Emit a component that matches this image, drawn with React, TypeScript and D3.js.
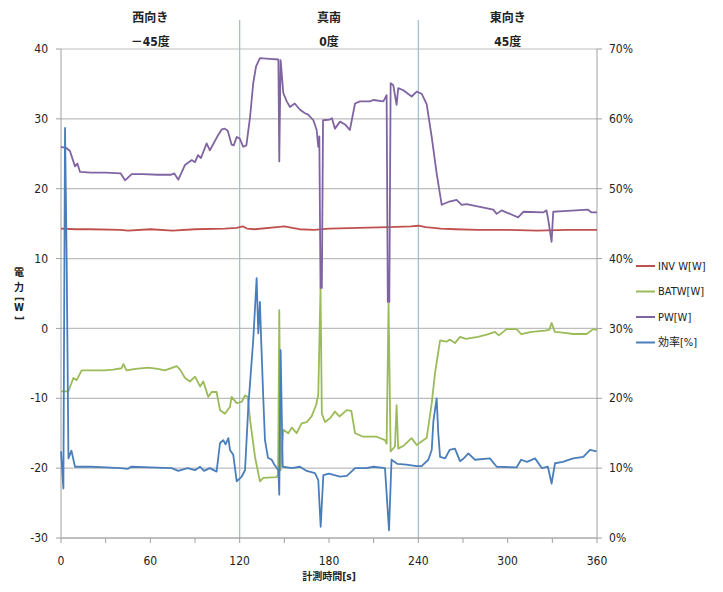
import * as d3 from 'd3';

// [time s, value] pairs
const invPoints: [number, number][] = [
  [0, 14.3], [10, 14.2], [20, 14.2], [40, 14.1], [45, 14.0], [60, 14.2], [75, 14.0], [90, 14.2],
  [110, 14.3], [118, 14.4], [122, 14.6], [125, 14.3], [130, 14.2], [145, 14.5], [150, 14.6],
  [160, 14.2], [170, 14.1], [180, 14.3], [200, 14.4], [220, 14.5], [235, 14.6], [240, 14.7],
  [245, 14.5], [255, 14.3], [265, 14.2], [280, 14.1], [300, 14.1], [320, 14.0], [340, 14.1], [360, 14.1],
];

const batwPoints: [number, number][] = [
  [0, -9.0], [5, -9.0], [8.3, -7.1], [10.5, -7.4], [13.9, -6.0], [20, -6.0], [29.5, -6.0], [35, -5.9],
  [40.7, -5.7], [41.9, -5.1], [44, -6.0], [50, -5.8], [58.6, -5.6], [65, -5.8], [69.8, -6.0],
  [77.7, -5.4], [80, -5.9], [83.3, -7.1], [86.6, -7.6], [90, -6.9], [93.4, -8.3], [95.6, -7.6],
  [98.9, -9.8], [101.2, -9.1], [104.5, -9.1], [106.8, -11.7], [110.1, -12.2], [113.5, -11.2],
  [114.6, -9.8], [118, -10.7], [121.4, -10.5], [123.6, -9.6], [125.4, -9.8], [127, -13.1],
  [130.3, -18.4], [133.6, -21.9], [135.9, -21.4], [144.9, -21.3], [145.8, -20.8], [146.6, 2.6],
  [147.5, -20.3], [149.3, -14.5], [152.7, -15.0], [155, -14.2], [158.3, -15.0], [161.6, -13.6],
  [165, -13.4], [168.3, -12.6], [171.3, -11.0], [172.8, -9.5], [174.3, 5.8], [175.2, -12.2],
  [177.3, -13.4], [181, -12.8], [184, -11.9], [187, -12.6], [191.9, -11.7], [195, -11.8],
  [197.5, -15.0], [203, -15.5], [212, -15.5], [217.6, -16.0], [218.7, -16.5], [220, 3.6],
  [221.4, -17.6], [224.3, -16.9], [225.4, -11.0], [226.5, -17.2], [230, -16.8], [235.5, -15.7],
  [238.9, -16.7], [243.3, -16.0], [245.6, -15.7], [249, -10.7], [251.2, -6.4], [254.6, -1.7],
  [259, -1.9], [261, -1.6], [264.6, -2.1], [268, -1.2], [272, -1.5], [280, -1.2], [285.9, -0.9],
  [291.5, -0.5], [294, -1.0], [299.3, -0.1], [306, -0.1], [309, -0.8], [316, -0.5], [325, -0.3],
  [328, -0.2], [329.5, 0.8], [331.7, -0.5], [337, -0.6], [344, -0.8], [353, -0.8], [357.5, -0.1], [360, -0.2],
];

const pwPoints: [number, number][] = [
  [0, 26.0], [3.8, 25.8], [6, 25.4], [9.4, 23.2], [11, 23.6], [12.8, 22.4], [20, 22.3], [30, 22.3],
  [40, 22.2], [43, 21.2], [47.5, 22.1], [55, 22.1], [65, 22.0], [74, 22.0], [76, 22.2], [78.8, 21.3],
  [83.3, 23.4], [87.8, 24.1], [90, 23.8], [92, 24.8], [94, 24.4], [97.8, 26.5], [100, 25.5],
  [105.6, 27.7], [108, 28.5], [110, 28.6], [112, 28.3], [114.6, 26.3], [116, 26.2], [118, 27.4],
  [120, 27.2], [122.4, 26.0], [124.5, 26.2], [127, 30.3], [129.1, 35.1], [131, 37.5], [133.6, 38.7],
  [140, 38.6], [146, 38.5], [146.6, 23.9], [147.5, 38.4], [149.3, 33.7], [151.6, 32.5], [153.8, 31.7],
  [157, 32.2], [160.5, 31.3], [163.9, 30.8], [166, 30.6], [169.5, 29.8], [171.7, 28.4], [172.8, 26.0],
  [173.5, 27.5], [174.3, 5.8], [175.2, 5.8], [176, 29.8], [180.6, 29.9], [182, 30.1], [184, 28.6],
  [187.4, 29.6], [190.8, 29.2], [194, 28.4], [197.5, 32.2], [200.8, 32.5], [207.5, 32.5],
  [209.7, 32.7], [216.5, 32.5], [218.7, 33.4], [219.5, 3.8], [220.5, 3.8], [221.4, 35.1],
  [223.2, 34.8], [225.4, 32.0], [226.5, 34.4], [229.9, 34.1], [235.5, 33.2], [238.9, 33.9],
  [242.2, 33.6], [245.6, 32.1], [249, 27.4], [252.3, 22.2], [255.7, 17.7], [260.1, 18.1],
  [265.7, 18.4], [269.1, 17.7], [272.4, 17.8], [281.4, 17.4], [290.3, 17.0], [292.6, 16.4],
  [295.9, 16.9], [303.7, 16.2], [307, 15.9], [310.5, 16.7], [323.9, 16.6], [326.1, 16.9],
  [327.3, 15.5], [329.5, 12.4], [330.6, 16.7], [337.3, 16.8], [354, 17.0], [356.3, 16.6], [360, 16.6],
];

// efficiency in % (right axis)
const effPoints: [number, number][] = [
  [0, 12.4], [1.6, 7.1], [2.7, 58.7], [3.8, 40], [5, 11.4], [7, 12.5], [9.4, 10.2], [20, 10.2],
  [30, 10.1], [40, 10.0], [45, 9.9], [47, 10.2], [60, 10.1], [74.3, 10.0], [78.8, 9.6], [85, 10.0],
  [90, 9.7], [93.4, 10.2], [96, 9.6], [100, 10.0], [104.5, 9.5], [106.8, 13.6], [109, 14.0],
  [110.5, 13.4], [112.4, 14.3], [113.5, 12.6], [115.7, 11.9], [118, 8.1], [121.4, 8.8], [123.6, 9.7],
  [125.8, 18.8], [129.1, 28.3], [131.4, 37.2], [132.5, 29.3], [133.6, 33.8], [134.5, 28],
  [135.9, 19.8], [137, 14.0], [139, 11.5], [141.5, 11.2], [143, 10.6], [146, 9.7], [146.6, 6.2],
  [147.5, 26.9], [148.9, 10.2], [155, 10.0], [160.5, 10.2], [165, 9.6], [170.6, 9.3], [172.8, 8.3],
  [174.4, 1.6], [176.2, 9.0], [180, 9.2], [187.4, 8.8], [192, 8.9], [197.5, 10.0], [205, 10.0],
  [210, 10.2], [217.6, 10.0], [220.3, 1.1], [222, 11.2], [226, 10.6], [232, 10.5], [238.9, 10.3],
  [242.2, 10.3], [246.7, 11.2], [249, 12.6], [250.1, 16.7], [252.3, 20.0], [253.4, 15],
  [254.6, 11.6], [258, 11.4], [261, 12.6], [264.6, 12.8], [268, 11.0], [270, 11.3], [273.6, 12.1],
  [278, 11.2], [288.1, 11.4], [292.6, 10.2], [306, 10.1], [309, 11.2], [313, 10.9], [318.4, 11.4],
  [323, 10.0], [327, 10.2], [329.5, 7.8], [331.8, 10.7], [337, 10.9], [344, 11.4], [350.8, 11.6],
  [355.3, 12.6], [359.7, 12.4],
];

const xTicks = [0, 60, 120, 180, 240, 300, 360];
const xMinorTicks = [0, 30, 60, 90, 120, 150, 180, 210, 240, 270, 300, 330, 360];
const leftTicks = [40, 30, 20, 10, 0, -10, -20, -30];
const rightTicks = [70, 60, 50, 40, 30, 20, 10, 0];
const sections = [
  { at: 60, title: '西向き', angle: '－45度' },
  { at: 180, title: '真南', angle: '0度' },
  { at: 300, title: '東向き', angle: '45度' },
];
const dividers = [120, 240];
const legendItems = [
  { label: 'INV W[W]', color: '#c0504d' },
  { label: 'BATW[W]', color: '#9bbb59' },
  { label: 'PW[W]', color: '#8064a2' },
  { label: '効率[%]', color: '#4a7ebb' },
];

const font = '"Liberation Sans Narrow", "DejaVu Sans Condensed", "Noto Sans CJK JP", sans-serif';

export default function App() {
  const width = 723;
  const height = 592;
  const x = d3.scaleLinear().domain([0, 360]).range([61, 597]);
  const yL = d3.scaleLinear().domain([-30, 40]).range([538, 49]);
  const yR = d3.scaleLinear().domain([0, 70]).range([538, 49]);

  const lineL = d3.line<[number, number]>().x(d => x(d[0])).y(d => yL(d[1]));
  const lineR = d3.line<[number, number]>().x(d => x(d[0])).y(d => yR(d[1]));

  const series = [
    { pts: invPoints, gen: lineL, color: legendItems[0].color },
    { pts: batwPoints, gen: lineL, color: legendItems[1].color },
    { pts: pwPoints, gen: lineL, color: legendItems[2].color },
    { pts: effPoints, gen: lineR, color: legendItems[3].color },
  ];

  return (
    <svg width={width} height={height} style={{ position: 'absolute', left: 0, top: 0, background: '#fff' }} fontFamily={font}>
      {/* horizontal gridlines */}
      {leftTicks.map(t => (
        <line key={'g' + t} x1={x(0)} x2={x(360)} y1={yL(t)} y2={yL(t)} stroke="#bdbdbd" strokeWidth={1.2} />
      ))}
      {/* section dividers */}
      {dividers.map(d => (
        <line key={'d' + d} x1={x(d)} x2={x(d)} y1={20} y2={yL(-30)} stroke="#9dbcc9" strokeWidth={1.2} />
      ))}
      {/* axes */}
      <line x1={x(0)} x2={x(0)} y1={yL(40)} y2={yL(-30)} stroke="#a0a0a0" />
      <line x1={x(360)} x2={x(360)} y1={yL(40)} y2={yL(-30)} stroke="#a0a0a0" />
      <line x1={x(0)} x2={x(360)} y1={yL(-30)} y2={yL(-30)} stroke="#a0a0a0" />
      {leftTicks.map(t => (
        <g key={'l' + t}>
          <line x1={x(0) - 5} x2={x(0)} y1={yL(t)} y2={yL(t)} stroke="#a0a0a0" />
          <text x={48} y={yL(t)} dy="0.35em" textAnchor="end" fontSize={12} fill="#222">{t}</text>
        </g>
      ))}
      {rightTicks.map(t => (
        <g key={'r' + t}>
          <line x1={x(360)} x2={x(360) + 5} y1={yR(t)} y2={yR(t)} stroke="#a0a0a0" />
          <text x={609} y={yR(t)} dy="0.35em" textAnchor="start" fontSize={12} fill="#222">{t}%</text>
        </g>
      ))}
      {xMinorTicks.map(t => (
        <line key={'m' + t} x1={x(t)} x2={x(t)} y1={yL(-30)} y2={yL(-30) + 5} stroke="#a0a0a0" />
      ))}
      {xTicks.map(t => (
        <text key={'x' + t} x={x(t)} y={561} dy="0.35em" textAnchor="middle" fontSize={12} fill="#222">{t}</text>
      ))}
      <text x={x(180)} y={580} textAnchor="middle" fontSize={10} fontWeight="bold" fill="#222">計測時間[s]</text>
      {/* left axis title, stacked vertically */}
      <g fontSize={10} fontWeight="bold" fill="#222" textAnchor="middle">
        <text x={19} y={276}>電</text>
        <text x={19} y={291}>力</text>
        <text x={19} y={302} transform="rotate(90 19 299)">[</text>
        <text x={19} y={311}>W</text>
        <text x={19} y={321} transform="rotate(90 19 318)">]</text>
      </g>
      {/* section labels */}
      {sections.map(s => (
        <g key={s.title} textAnchor="middle" fontSize={12} fontWeight="bold" fill="#222">
          <text x={x(s.at)} y={22}>{s.title}</text>
          <text x={x(s.at)} y={46}>{s.angle}</text>
        </g>
      ))}
      {/* data */}
      {series.map((s, i) => (
        <path key={'s' + i} d={s.gen(s.pts) || ''} fill="none" stroke={s.color} strokeWidth={1.8} strokeLinejoin="round" />
      ))}
      {/* legend */}
      {legendItems.map((l, i) => (
        <g key={l.label} transform={`translate(636, ${266 + i * 25.5})`}>
          <line x1={0} x2={19} y1={0} y2={0} stroke={l.color} strokeWidth={2} />
          <text x={22} y={0} dy="0.35em" fontSize={11} fill="#222">{l.label}</text>
        </g>
      ))}
    </svg>
  );
}
